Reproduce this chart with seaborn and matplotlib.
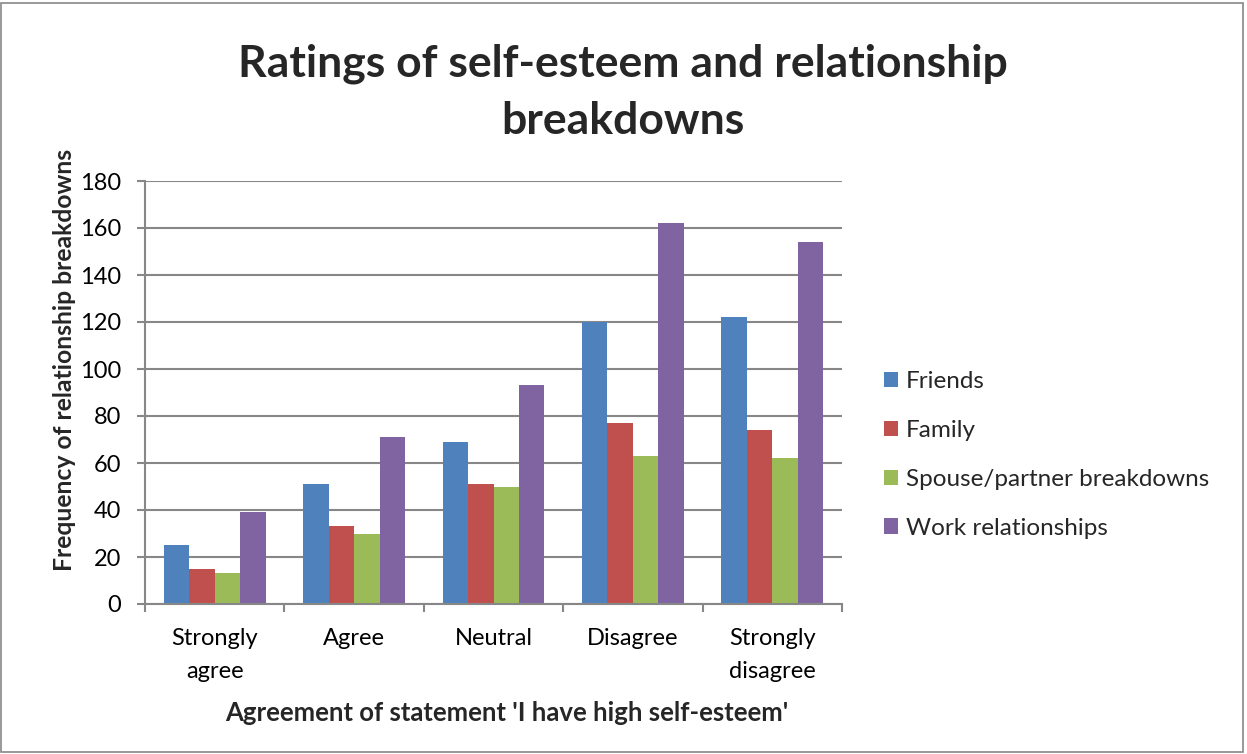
import numpy as np
import pandas as pd
import matplotlib

matplotlib.use("Agg")
import matplotlib.pyplot as plt
import seaborn as sns
from matplotlib.patches import Rectangle

CATEGORIES = ["Strongly\nagree", "Agree", "Neutral", "Disagree", "Strongly\ndisagree"]
SERIES = ["Friends", "Family", "Spouse/partner breakdowns", "Work relationships"]
FRIENDS = [25, 51, 69, 120, 122]
FAMILY = [15, 33, 51, 77, 74]
SPOUSE = [13, 30, 50, 63, 62]
WORK = [39, 71, 93, 162, 154]
COLORS = ["#4F81BD", "#C0504D", "#9BBB59", "#8064A2"]
Y_TICKS = list(range(0, 181, 20))

sns.set_theme(style="white")
plt.rcParams["font.family"] = ["Lato", "DejaVu Sans"]

rows = []
for name, vals in zip(SERIES, [FRIENDS, FAMILY, SPOUSE, WORK]):
    for cat, v in zip(CATEGORIES, vals):
        rows.append({"category": cat, "series": name, "value": v})
df = pd.DataFrame(rows)

W, H = 1247, 754
fig = plt.figure(figsize=(W / 100, H / 100), dpi=100)
ax = fig.add_axes([145 / W, 1 - 604 / H, 697 / W, 423 / H])

sns.barplot(
    data=df,
    x="category",
    y="value",
    hue="series",
    order=CATEGORIES,
    hue_order=SERIES,
    palette=COLORS,
    width=0.73,
    gap=0,
    saturation=1,
    linewidth=0,
    errorbar=None,
    ax=ax,
)

ax.set_ylim(0, 180)
ax.set_xlim(-0.5, len(CATEGORIES) - 0.5)
ax.set_yticks(Y_TICKS)
ax.yaxis.grid(True, color="#878787", linewidth=1.5)
ax.set_axisbelow(True)
for side in ["top", "right"]:
    ax.spines[side].set_visible(False)
for side in ["left", "bottom"]:
    ax.spines[side].set_color("#878787")
    ax.spines[side].set_linewidth(1.5)

ax.tick_params(axis="y", which="major", left=True, length=6, width=1.5,
               color="#878787", labelsize=17, pad=11, labelcolor="black")
ax.tick_params(axis="x", which="major", bottom=False, labelsize=17, pad=11,
               labelcolor="black")
ax.set_xticks(np.arange(-0.5, len(CATEGORIES), 1), minor=True)
ax.tick_params(axis="x", which="minor", bottom=True, length=6, width=1.5,
               color="#878787")
for lbl in ax.get_xticklabels():
    lbl.set_linespacing(1.7)
    lbl.set_verticalalignment("top")

ax.set_xlabel("")
ax.set_ylabel("")
fig.text(65 / W, 1 - 360 / H, "Frequency of relationship breakdowns",
         rotation=90, ha="center", va="center", fontsize=17.8, fontweight="bold")
fig.text(507 / W, 1 - 713 / H, "Agreement of statement 'I have high self-esteem'",
         ha="center", va="center", fontsize=18.5, fontweight="bold")
fig.text(623 / W, 1 - 92 / H, "Ratings of self-esteem and relationship\nbreakdowns",
         ha="center", va="center", fontsize=32, fontweight="bold", linespacing=1.5)

leg = ax.legend(
    loc="center left",
    bbox_to_anchor=(862 / W, 1 - 455 / H),
    bbox_transform=fig.transFigure,
    frameon=False,
    fontsize=17.5,
    handlelength=0.58,
    handleheight=0.58,
    handletextpad=0.33,
    labelspacing=1.14,
)

fig.patches.append(Rectangle((1 / W, 2 / H), (W - 5) / W, (H - 5) / H,
                             transform=fig.transFigure, fill=False,
                             edgecolor="#878787", linewidth=1.2))

fig.savefig("out.png", dpi=100)
plt.close(fig)
